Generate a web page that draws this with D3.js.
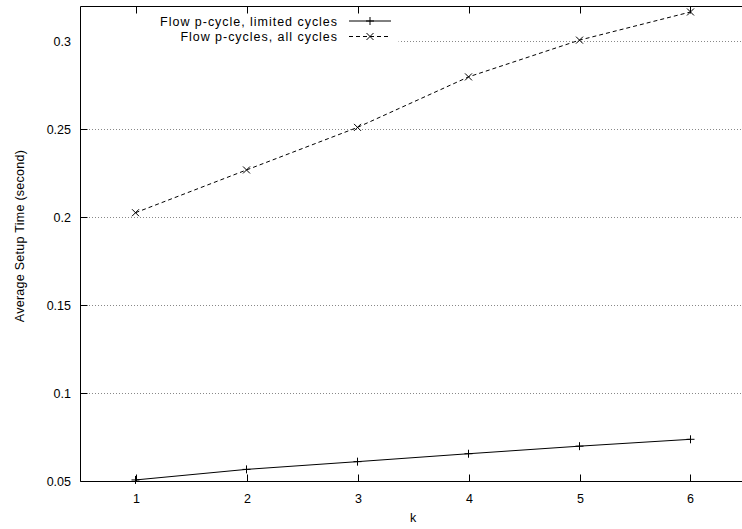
<!DOCTYPE html>
<html>
<head>
<meta charset="utf-8">
<script src="https://cdn.jsdelivr.net/npm/d3@7"></script>
<style>
  body { margin: 0; background: #fff; }
  svg { display: block; font-family: "Liberation Sans", Arial, sans-serif; }
</style>
</head>
<body>
<div id="chart"></div>
<script>
// values
const kValues = [1, 2, 3, 4, 5, 6];
const limitedCycles = [0.0506, 0.0566, 0.061, 0.0655, 0.0698, 0.0737];
const allCycles = [0.2025, 0.2268, 0.2510, 0.2797, 0.3006, 0.3166];
const yTicks = [0.05, 0.1, 0.15, 0.2, 0.25, 0.3];
const yTickLabels = ['0.05', '0.1', '0.15', '0.2', '0.25', '0.3'];
const seriesNames = ['Flow p-cycle, limited cycles', 'Flow p-cycles, all cycles'];

const width = 742, height = 529;
const margin = { top: 6, right: -4, bottom: 48, left: 80 };

const svg = d3.select('#chart').append('svg')
    .attr('width', width)
    .attr('height', height);

const x = d3.scaleLinear()
    .domain([0.5, 6.5])
    .range([margin.left, width - margin.right]);

const y = d3.scaleLinear()
    .domain([0.05, 0.32])
    .range([height - margin.bottom, margin.top]);

// grid lines
svg.append('g')
    .selectAll('line')
    .data(yTicks.slice(1))
    .enter().append('line')
    .attr('x1', margin.left)
    .attr('x2', width - margin.right)
    .attr('y1', d => Math.round(y(d)) + 0.5)
    .attr('y2', d => Math.round(y(d)) + 0.5)
    .attr('stroke', '#888')
    .attr('stroke-width', 1)
    .attr('stroke-dasharray', '1,2');

// frame
const x0 = margin.left + 0.5, x1 = width - margin.right;
const yTop = Math.round(y(0.32)) + 0.5, yBot = Math.round(y(0.05)) + 0.5;
svg.append('path')
    .attr('d', `M${x1},${yTop}H${x0}V${yBot}H${x1}`)
    .attr('fill', 'none')
    .attr('stroke', '#000');

// x ticks (bottom and top, inward)
const xt = svg.append('g');
kValues.forEach(k => {
    const px = Math.round(x(k)) + 0.5;
    xt.append('line').attr('x1', px).attr('x2', px).attr('y1', yBot).attr('y2', yBot - 7).attr('stroke', '#000');
    xt.append('line').attr('x1', px).attr('x2', px).attr('y1', yTop).attr('y2', yTop + 7).attr('stroke', '#000');
    xt.append('text')
        .attr('x', px)
        .attr('y', yBot + 21)
        .attr('text-anchor', 'middle')
        .attr('font-size', 12.5)
        .text(k);
});

// y ticks
const yt = svg.append('g');
yTicks.forEach((v, i) => {
    const py = Math.round(y(v)) + 0.5;
    yt.append('line').attr('x1', x0).attr('x2', x0 + 7).attr('y1', py).attr('y2', py).attr('stroke', '#000');
    yt.append('text')
        .attr('x', 71)
        .attr('y', py + 4.5)
        .attr('text-anchor', 'end')
        .attr('font-size', 12.5)
        .text(yTickLabels[i]);
});

// axis titles
svg.append('text')
    .attr('x', x(3.5))
    .attr('y', 522)
    .attr('text-anchor', 'middle')
    .attr('font-size', 12.5)
    .text('k');

svg.append('text')
    .attr('transform', 'translate(24,236) rotate(-90)')
    .attr('text-anchor', 'middle')
    .attr('font-size', 12.5)
    .attr('letter-spacing', 0.27)
    .text('Average Setup Time (second)');

// series
const line = d3.line()
    .x((d, i) => x(kValues[i]))
    .y(d => y(d));

svg.append('path')
    .datum(limitedCycles)
    .attr('d', line)
    .attr('fill', 'none')
    .attr('stroke', '#000')
    .attr('stroke-width', 1);

svg.append('path')
    .datum(allCycles)
    .attr('d', line)
    .attr('fill', 'none')
    .attr('stroke', '#000')
    .attr('stroke-width', 1)
    .attr('stroke-dasharray', '4,3');

const plusPath = s => `M${-s},0H${s}M0,${-s}V${s}`;
const crossPath = s => `M${-s},${-s}L${s},${s}M${-s},${s}L${s},${-s}`;

svg.append('g')
    .selectAll('path')
    .data(limitedCycles)
    .enter().append('path')
    .attr('transform', (d, i) => `translate(${x(kValues[i])},${y(d)})`)
    .attr('d', plusPath(4))
    .attr('stroke', '#000')
    .attr('fill', 'none');

svg.append('g')
    .selectAll('path')
    .data(allCycles)
    .enter().append('path')
    .attr('transform', (d, i) => `translate(${x(kValues[i])},${y(d)})`)
    .attr('d', crossPath(3.5))
    .attr('stroke', '#000')
    .attr('fill', 'none');

// legend
const legend = svg.append('g');
legend.append('rect')
    .attr('x', x0 + 0.5)
    .attr('y', yTop + 8)
    .attr('width', 398 - x0)
    .attr('height', 37)
    .attr('fill', '#fff');

seriesNames.forEach((name, i) => {
    const ly = 21 + i * 15.5;
    legend.append('text')
        .attr('x', 338)
        .attr('y', ly + 4.5)
        .attr('text-anchor', 'end')
        .attr('font-size', 12.5)
        .attr('letter-spacing', 0.97)
        .text(name);
    legend.append('line')
        .attr('x1', 349).attr('x2', 391)
        .attr('y1', ly).attr('y2', ly)
        .attr('stroke', '#000')
        .attr('stroke-dasharray', i === 0 ? null : '4,3');
    legend.append('path')
        .attr('transform', `translate(370,${ly})`)
        .attr('d', i === 0 ? plusPath(4) : crossPath(3.5))
        .attr('stroke', '#000')
        .attr('fill', 'none');
});
</script>
</body>
</html>
